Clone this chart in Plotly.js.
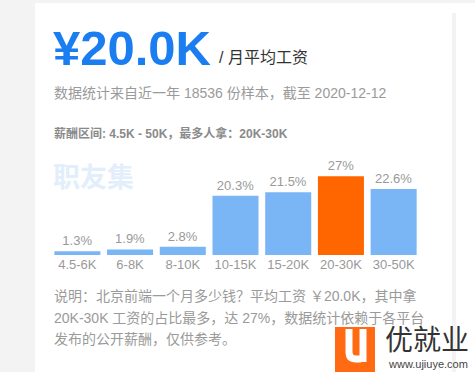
<!DOCTYPE html>
<html>
<head>
<meta charset="utf-8">
<script src="https://cdn.plot.ly/plotly-3.0.1.min.js"></script>
<style>html,body{margin:0;padding:0;background:#f3f3f3;}#chart{width:475px;height:372px;}</style>
</head>
<body>
<div id="chart"></div>
<script>
const categories = ['4.5-6K', '6-8K', '8-10K', '10-15K', '15-20K', '20-30K', '30-50K'];
const shares = [1.3, 1.9, 2.8, 20.3, 21.5, 27, 22.6];
const highlight = '20-30K';

const headline = '¥20.0K';
const headlineUnit = '/ 月平均工资';
const sourceNote = '数据统计来自近一年 18536 份样本，截至 2020-12-12';
const rangeNote = '薪酬区间: 4.5K - 50K，最多人拿：20K-30K';
const watermark = '职友集';
const descLines = [
  '说明：北京前端一个月多少钱？平均工资 ￥20.0K，其中拿',
  '20K-30K 工资的占比最多，达 27%，数据统计依赖于各平台',
  '发布的公开薪酬，仅供参考。'
];
const logoText = '优就业';
const logoUrl = 'www.ujiuye.com';

const W = 475, H = 372;
const M = {l: 51, r: 55, t: 150, b: 117};
const pw = W - M.l - M.r, ph = H - M.t - M.b;
const px = x => (x - M.l) / pw;
const py = y => (H - M.b - y) / ph;

const FONT = 'Liberation Sans, Arial, Noto Sans CJK SC, sans-serif';

function ann(text, x, y, size, color, opts) {
  return Object.assign({
    text: text, xref: 'paper', yref: 'paper', x: px(x), y: py(y),
    xanchor: 'left', yanchor: 'middle', showarrow: false,
    font: {family: FONT, size: size, color: color}
  }, opts || {});
}

const annotations = [
  ann('<b>' + headline + '</b>', 51, 48, 49, '#1a7ef0'),
  ann(headlineUnit, 217, 57, 16, '#333333'),
  ann(sourceNote, 52, 93, 14, '#9a9a9a'),
  ann('<b>' + rangeNote + '</b>', 52, 133, 12, '#8a8a8a'),
  ann('<b>' + watermark + '</b>', 51, 178, 27, '#e2eefb'),
  ann(descLines[0], 52, 296, 14, '#9a9a9a'),
  ann(descLines[1], 52, 318, 14, '#9a9a9a'),
  ann(descLines[2], 52, 339, 14, '#9a9a9a'),
  ann(logoText, 383, 340, 28, '#333333'),
  ann(logoUrl, 386, 364, 11, '#444444')
];

const shapes = [
  {type: 'rect', xref: 'paper', yref: 'paper', x0: px(35), x1: px(452), y0: py(3), y1: py(372),
   fillcolor: '#ffffff', line: {width: 0}, layer: 'below'},
  {type: 'rect', xref: 'paper', yref: 'paper', x0: px(456), x1: px(476), y0: py(3), y1: py(372),
   fillcolor: '#ffffff', line: {width: 0}, layer: 'below'},
  {type: 'rect', xref: 'paper', yref: 'paper', x0: px(452), x1: px(456), y0: py(3), y1: py(13),
   fillcolor: '#ffffff', line: {width: 0}, layer: 'below'},
  {type: 'rect', xref: 'paper', yref: 'paper', x0: px(335), x1: px(375), y0: py(327), y1: py(372),
   fillcolor: '#ff6a13', line: {width: 0}, layer: 'above'},
  {type: 'path', xref: 'paper', yref: 'paper',
   path: 'M ' + px(349) + ',' + py(329) + ' L ' + px(349) + ',' + py(352) +
         ' Q ' + px(349) + ',' + py(359) + ' ' + px(356) + ',' + py(359) +
         ' L ' + px(361) + ',' + py(359) +
         ' M ' + px(363) + ',' + py(329) + ' L ' + px(363) + ',' + py(362),
   line: {color: '#ffffff', width: 7}, layer: 'above'}
];

const trace = {
  type: 'bar',
  x: categories,
  y: shares,
  marker: {color: categories.map(c => c === highlight ? '#ff6600' : '#7ab6f6')},
  text: shares.map(v => v + '%'),
  textposition: 'outside',
  textfont: {family: FONT, size: 13, color: '#999999'},
  cliponaxis: false,
  hoverinfo: 'none'
};

const layout = {
  width: W, height: H,
  margin: M,
  paper_bgcolor: '#f3f3f3',
  plot_bgcolor: 'rgba(0,0,0,0)',
  bargap: 0.127,
  showlegend: false,
  font: {family: FONT},
  xaxis: {
    type: 'category', showgrid: false, zeroline: false, showline: false, ticks: '',
    tickfont: {family: FONT, size: 13, color: '#999999'}, fixedrange: true
  },
  yaxis: {range: [0, 36], visible: false, fixedrange: true},
  annotations: annotations,
  shapes: shapes
};

Plotly.newPlot('chart', [trace], layout, {displayModeBar: false, staticPlot: true});
</script>
</body>
</html>
